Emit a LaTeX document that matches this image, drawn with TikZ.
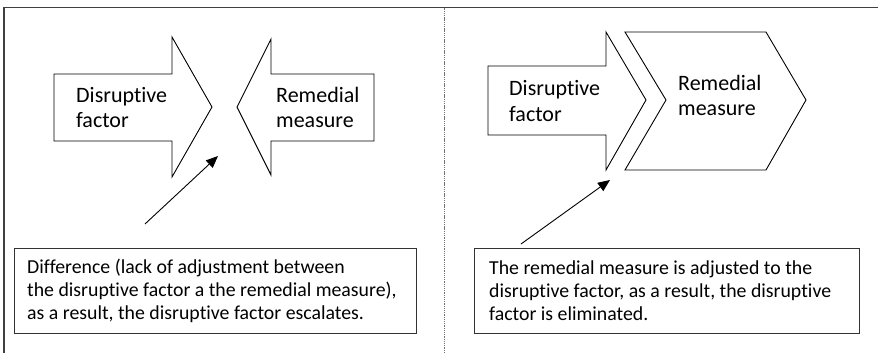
\documentclass[tikz,border=0pt]{standalone}
\usepackage{fontspec}
\setmainfont{Carlito}[Ligatures=NoCommon]
\usetikzlibrary{arrows.meta}
\begin{document}
\begin{tikzpicture}[x=1pt,y=-1pt,
  frame/.style={draw=black!75, line width=1.3pt},
  divider/.style={draw=black!55, line width=1.4pt, dash pattern=on 1.3pt off 0.9pt},
  block/.style={draw=black, line width=0.9pt, line join=miter},
  lbl/.style={inner sep=0pt, anchor=base west, align=left,
              font=\fontsize{22}{25}\selectfont},
  note/.style={draw=black!80, line width=1.1pt, inner sep=0pt, anchor=north west},
  notetext/.style={inner sep=0pt, anchor=base west, align=left,
                   font=\fontsize{19.8}{23}\selectfont},
  pointer/.style={draw=black, line width=0.9pt,
                  -{Triangle[length=12pt,width=10pt]}}]

\useasboundingbox (0,0) rectangle (878,353);

% outer frame (top and left rules) and the panel divider
\draw[frame] (4,353) -- (4,7.5) -- (878,7.5);
\draw[divider] (444.5,8.5) -- (444.5,353);

% ---------- left panel: arrows facing each other ----------
\draw[block] (54,74) -- (172,74) -- (172,37) -- (212,107) -- (172,177)
             -- (172,141) -- (54,141) -- cycle;
\draw[block] (374,74) -- (271,74) -- (271,39) -- (237,107) -- (271,175)
             -- (271,141) -- (374,141) -- cycle;
% labels are anchored at the baseline of their last line
\node[lbl] (dfL) at (76,127) {Disruptive\\factor};
\node[lbl] (rmL) at (276,127) {Remedial\\measure};

\node[note, minimum width=402pt, minimum height=85pt] (boxL) at (14,248) {};
\node[notetext] (txtL) at (27,319.5)
  {Difference (lack of adjustment between\\
   the disruptive factor a the remedial measure),\\
   as a result, the disruptive factor escalates.};

\coordinate (fromL) at (145,224);
\coordinate (gapL) at (218,156);
\draw[pointer] (fromL) -- (gapL);

% ---------- right panel: arrow fitted into a chevron ----------
\draw[block] (488,66) -- (606,66) -- (606,32) -- (646,100) -- (606,170)
             -- (606,135) -- (488,135) -- cycle;
\draw[block] (625,32) -- (766,32) -- (806,100) -- (766,170) -- (625,170)
             -- (666,100) -- cycle;
\node[lbl] (dfR) at (509,121) {Disruptive\\factor};
\node[lbl] (rmR) at (678,115) {Remedial\\measure};

\node[note, minimum width=385pt, minimum height=85pt] (boxR) at (474,248) {};
\node[notetext] (txtR) at (489,320)
  {The remedial measure is adjusted to the\\
   disruptive factor, as a result, the disruptive\\
   factor is eliminated.};

\coordinate (fromR) at (521,244);
\coordinate (joinR) at (610,180);
\draw[pointer] (fromR) -- (joinR);

\end{tikzpicture}
\end{document}
